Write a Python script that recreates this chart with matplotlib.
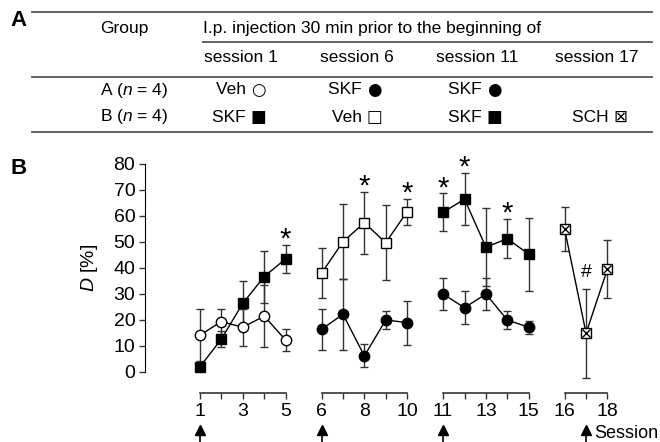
import numpy as np
import matplotlib
matplotlib.use("Agg")
import matplotlib.pyplot as plt
from matplotlib.lines import Line2D

plt.rcParams['font.family'] = ['Liberation Sans', 'DejaVu Sans']
plt.rcParams['mathtext.fontset'] = 'custom'
plt.rcParams['mathtext.it'] = 'Liberation Sans:italic'
plt.rcParams['mathtext.rm'] = 'Liberation Sans'

# ---- data ----
sess_1 = [1, 2, 3, 4, 5]
sess_2 = [6, 7, 8, 9, 10]
sess_3 = [11, 12, 13, 14, 15]
sess_4 = [16, 17, 18]

# group A (circles)
grpA_1 = [14.2, 19.4, 17.2, 21.5, 12.3]
grpA_1_err = [10.0, 5.0, 7.2, 12.0, 4.2]
grpA_2 = [16.4, 22.2, 6.2, 20.0, 19.0]
grpA_2_err = [8.0, 13.7, 4.4, 3.3, 8.5]
grpA_3 = [30.0, 24.7, 30.0, 20.0, 17.2]
grpA_3_err = [6.3, 6.4, 6.0, 3.3, 2.6]

# group B (squares)
grpB_1 = [2.0, 12.7, 26.4, 36.7, 43.5]
grpB_1_err = [1.5, 3.0, 8.6, 10.0, 5.4]
grpB_2 = [38.0, 50.1, 57.4, 49.7, 61.7]
grpB_2_err = [9.5, 14.5, 12.0, 14.5, 5.0]
grpB_3 = [61.4, 66.5, 48.0, 51.3, 45.3]
grpB_3_err = [7.3, 10.0, 15.0, 7.5, 14.0]
grpB_4 = [54.9, 14.9, 39.6]
grpB_4_err = [8.5, 17.2, 11.3]

star_sessions = [5, 8, 10, 11, 12, 14]
hash_sessions = [17]
arrow_sessions = [1, 6, 11, 17]
labelled_sessions = [1, 3, 5, 6, 8, 10, 11, 13, 15, 16, 18]

GAP = 0.68


def pos(s):
    # sessions are drawn in 4 blocks with a gap between them
    s = np.asarray(s, dtype=float)
    block = np.where(s <= 5, 0, np.where(s <= 10, 1, np.where(s <= 15, 2, 3)))
    return s + GAP * block


fig = plt.figure(figsize=(6.6, 4.42), dpi=100)
W, H = 660, 442

# ---- panel A: table ----
def fx(px):
    return px / W


def fy(py):
    return 1 - py / H


for y0, x0 in [(12, 32), (42, 203), (77, 32), (132, 32)]:
    fig.add_artist(Line2D([fx(x0), fx(652)], [fy(y0), fy(y0)], color='#555555', lw=1.3))

tfs = 12.5
fig.text(fx(10), fy(20), 'A', fontsize=16, fontweight='bold', va='center')
fig.text(fx(124), fy(29), 'Group', fontsize=tfs, ha='center', va='center')
fig.text(fx(203), fy(29), 'I.p. injection 30 min prior to the beginning of', fontsize=tfs, va='center')

col_x = [241, 357, 477, 597]
for cx, lab in zip(col_x, ['session 1', 'session 6', 'session 11', 'session 17']):
    fig.text(fx(cx), fy(58), lab, fontsize=tfs, ha='center', va='center')

fig.text(fx(100), fy(90), 'A ($n$ = 4)', fontsize=tfs, va='center')
fig.text(fx(100), fy(117), 'B ($n$ = 4)', fontsize=tfs, va='center')
rowA = [('Veh', '\u25cb'), ('SKF', '\u25cf'), ('SKF', '\u25cf'), ('', '')]
rowB = [('SKF', '\u25a0'), ('Veh', '\u25a1'), ('SKF', '\u25a0'), ('SCH', '\u22a0')]
for cx, a, b in zip(col_x, rowA, rowB):
    for yy, (word, sym) in [(90, a), (117, b)]:
        if not word:
            continue
        xx = cx + 6 if word == 'SCH' else cx
        fig.text(fx(xx + 10), fy(yy), word + ' ', fontsize=tfs, ha='right', va='center')
        fig.text(fx(xx + 10), fy(yy), sym, fontsize=tfs - 0.5, ha='left', va='center',
                 family=['DejaVu Sans'])

# ---- panel B: plot ----
ymin, ymax = -8, 85
ax_bottom = 392.8
ax_top = 151
ax = fig.add_axes([fx(145), fy(ax_bottom), 495 / W, (ax_bottom - ax_top) / H])
ax.set_ylim(ymin, ymax)
x_left = 1 - (200 - 145) / 21.4
ax.set_xlim(x_left, x_left + 495 / 21.4)

ebkw = dict(fmt='none', ecolor='#333333', elinewidth=1, capsize=3, capthick=1, zorder=2)
mkw = dict(color='black', lw=1, markersize=7.5, markeredgewidth=1, zorder=3)


def series(s, y, err, marker, face):
    ax.errorbar(pos(s), y, yerr=err, **ebkw)
    ax.plot(pos(s), y, marker=marker, markerfacecolor=face, markeredgecolor='black', **mkw)


series(sess_1, grpA_1, grpA_1_err, 'o', 'white')
series(sess_1, grpB_1, grpB_1_err, 's', 'black')
series(sess_2, grpA_2, grpA_2_err, 'o', 'black')
series(sess_2, grpB_2, grpB_2_err, 's', 'white')
series(sess_3, grpA_3, grpA_3_err, 'o', 'black')
series(sess_3, grpB_3, grpB_3_err, 's', 'black')
series(sess_4, grpB_4, grpB_4_err, 's', 'white')
ax.plot(pos(sess_4), grpB_4, 'x', color='black', markersize=5.5, mew=1, zorder=4)

# significance marks above group B
allB = dict(zip(sess_1 + sess_2 + sess_3 + sess_4, grpB_1 + grpB_2 + grpB_3 + grpB_4))
allB_err = dict(zip(sess_1 + sess_2 + sess_3 + sess_4,
                    grpB_1_err + grpB_2_err + grpB_3_err + grpB_4_err))
for s in star_sessions:
    ax.text(pos(s), allB[s] + allB_err[s] + 2.0, '*', fontsize=21, ha='center', va='center', clip_on=False)
for s in hash_sessions:
    ax.text(pos(s), allB[s] + allB_err[s] + 6, '#', fontsize=14, ha='center', va='center')

# axes styling
for sp in ['top', 'right', 'bottom']:
    ax.spines[sp].set_visible(False)
ax.spines['left'].set_bounds(0, 80)
ax.set_yticks(np.arange(0, 81, 10))
all_sess = np.arange(1, 19)
ax.set_xticks(pos(all_sess))
ax.set_xticklabels([str(s) if s in labelled_sessions else '' for s in all_sess])
ax.tick_params(axis='both', labelsize=14, length=4, width=1, color='#333333')
ax.tick_params(axis='x', pad=3)
ax.tick_params(axis='y', pad=3)

for blk in [sess_1, sess_2, sess_3, sess_4]:
    ax.plot([pos(blk[0]), pos(blk[-1])], [ymin, ymin], color='#333333', lw=1.2, clip_on=False)

# injection arrows (shaft + head)
xt = ax.get_xaxis_transform()
for s in arrow_sessions:
    ax.plot([pos(s), pos(s)], [-0.16, -0.23], color='black', lw=1.2, transform=xt, clip_on=False)
    ax.plot([pos(s)], [-0.155], marker='^', color='black', markersize=7.5, transform=xt,
            clip_on=False)

fig.text(fx(594), fy(434), 'Session', fontsize=13, va='center')
fig.text(fx(90), fy(268), '$D$ [%]', fontsize=14, rotation=90, ha='center', va='center')
fig.text(fx(10), fy(168), 'B', fontsize=16, fontweight='bold', va='center')

fig.savefig('out.png', dpi=100)
